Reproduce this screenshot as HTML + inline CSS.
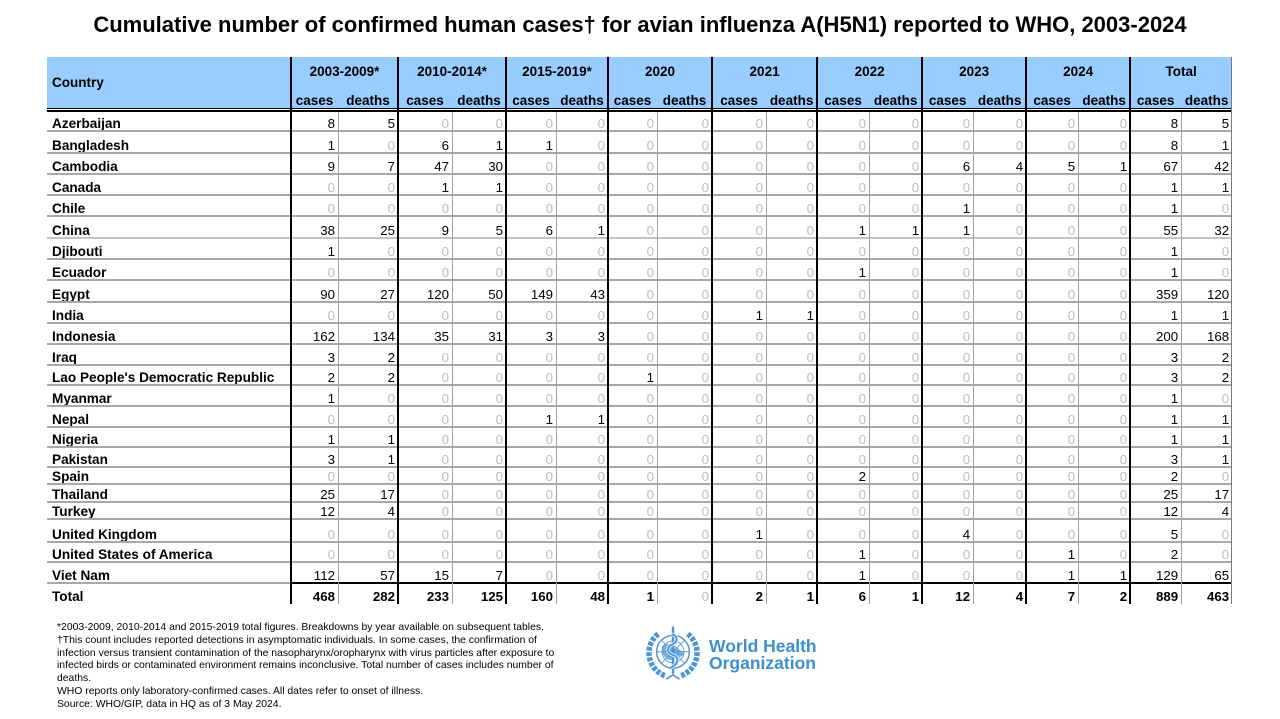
<!DOCTYPE html>
<html><head><meta charset="utf-8">
<style>
body{margin:0;width:1280px;height:719px;position:relative;overflow:hidden;background:#fff;font-family:"Liberation Sans",Arial,sans-serif;color:#000;}
.title{position:absolute;left:0;top:14px;width:1280px;text-align:center;font-weight:bold;font-size:22px;line-height:22px;white-space:nowrap;}
.hb{position:absolute;left:47px;top:57px;width:1185px;height:51px;background:#99ccff;}
.t{position:absolute;left:47px;top:57px;width:1185px;table-layout:fixed;border-collapse:collapse;border-spacing:0;}
.t td{padding:0 3px 0 0;text-align:right;vertical-align:bottom;line-height:15px;font-size:13.3px;white-space:nowrap;overflow:hidden;color:#000;}
.t td.c{text-align:left;padding-left:5px;padding-right:0;font-weight:bold;font-size:13.6px;}
.t td.z{color:#bdbdbd;}
.t tr.h td{font-weight:bold;font-size:13.5px;text-align:center;padding:0;}
.t tr.h td.c{text-align:left;padding-left:5px;vertical-align:middle;}
.t tr.h1 td{vertical-align:middle;}
.t tr.tot td{font-weight:bold;}
.t tr.tot td.z{font-weight:normal;}
.l{position:absolute;}
.hg{left:47px;width:1185px;height:2px;background:#a8a8a8;}
.vk{width:2px;top:57px;height:547px;background:#000;}
.vt{width:1px;top:112px;height:492px;background:#a0a0a0;}
.foot{position:absolute;left:57px;top:622px;font-size:10.4px;line-height:12.8px;white-space:nowrap;}
.who{position:absolute;left:709px;font-weight:bold;font-size:17.5px;line-height:17px;color:#3d8fd0;white-space:nowrap;}
</style></head><body>
<div class="title">Cumulative number of confirmed human cases† for avian influenza A(H5N1) reported to WHO, 2003-2024</div>
<div class="hb"></div>
<table class="t">
<colgroup><col style="width:244px"><col style="width:47px"><col style="width:60px"><col style="width:54px"><col style="width:54px"><col style="width:50px"><col style="width:52px"><col style="width:49px"><col style="width:55px"><col style="width:54px"><col style="width:51px"><col style="width:52px"><col style="width:53px"><col style="width:51px"><col style="width:53px"><col style="width:52px"><col style="width:52px"><col style="width:51px"><col style="width:51px"></colgroup>
<tr class="h h1" style="height:28px"><td class="c" rowspan="2">Country</td><td colspan="2">2003-2009*</td><td colspan="2">2010-2014*</td><td colspan="2">2015-2019*</td><td colspan="2">2020</td><td colspan="2">2021</td><td colspan="2">2022</td><td colspan="2">2023</td><td colspan="2">2024</td><td colspan="2">Total</td></tr>
<tr class="h" style="height:23px"><td>cases</td><td>deaths</td><td>cases</td><td>deaths</td><td>cases</td><td>deaths</td><td>cases</td><td>deaths</td><td>cases</td><td>deaths</td><td>cases</td><td>deaths</td><td>cases</td><td>deaths</td><td>cases</td><td>deaths</td><td>cases</td><td>deaths</td></tr>
<tr style="height:4px"><td colspan="19" style="line-height:0;font-size:0"></td></tr>
<tr style="height:19px"><td class="c">Azerbaijan</td><td>8</td><td>5</td><td class="z">0</td><td class="z">0</td><td class="z">0</td><td class="z">0</td><td class="z">0</td><td class="z">0</td><td class="z">0</td><td class="z">0</td><td class="z">0</td><td class="z">0</td><td class="z">0</td><td class="z">0</td><td class="z">0</td><td class="z">0</td><td>8</td><td>5</td></tr>
<tr style="height:22px"><td class="c">Bangladesh</td><td>1</td><td class="z">0</td><td>6</td><td>1</td><td>1</td><td class="z">0</td><td class="z">0</td><td class="z">0</td><td class="z">0</td><td class="z">0</td><td class="z">0</td><td class="z">0</td><td class="z">0</td><td class="z">0</td><td class="z">0</td><td class="z">0</td><td>8</td><td>1</td></tr>
<tr style="height:21px"><td class="c">Cambodia</td><td>9</td><td>7</td><td>47</td><td>30</td><td class="z">0</td><td class="z">0</td><td class="z">0</td><td class="z">0</td><td class="z">0</td><td class="z">0</td><td class="z">0</td><td class="z">0</td><td>6</td><td>4</td><td>5</td><td>1</td><td>67</td><td>42</td></tr>
<tr style="height:21px"><td class="c">Canada</td><td class="z">0</td><td class="z">0</td><td>1</td><td>1</td><td class="z">0</td><td class="z">0</td><td class="z">0</td><td class="z">0</td><td class="z">0</td><td class="z">0</td><td class="z">0</td><td class="z">0</td><td class="z">0</td><td class="z">0</td><td class="z">0</td><td class="z">0</td><td>1</td><td>1</td></tr>
<tr style="height:21px"><td class="c">Chile</td><td class="z">0</td><td class="z">0</td><td class="z">0</td><td class="z">0</td><td class="z">0</td><td class="z">0</td><td class="z">0</td><td class="z">0</td><td class="z">0</td><td class="z">0</td><td class="z">0</td><td class="z">0</td><td>1</td><td class="z">0</td><td class="z">0</td><td class="z">0</td><td>1</td><td class="z">0</td></tr>
<tr style="height:22px"><td class="c">China</td><td>38</td><td>25</td><td>9</td><td>5</td><td>6</td><td>1</td><td class="z">0</td><td class="z">0</td><td class="z">0</td><td class="z">0</td><td>1</td><td>1</td><td>1</td><td class="z">0</td><td class="z">0</td><td class="z">0</td><td>55</td><td>32</td></tr>
<tr style="height:21px"><td class="c">Djibouti</td><td>1</td><td class="z">0</td><td class="z">0</td><td class="z">0</td><td class="z">0</td><td class="z">0</td><td class="z">0</td><td class="z">0</td><td class="z">0</td><td class="z">0</td><td class="z">0</td><td class="z">0</td><td class="z">0</td><td class="z">0</td><td class="z">0</td><td class="z">0</td><td>1</td><td class="z">0</td></tr>
<tr style="height:21px"><td class="c">Ecuador</td><td class="z">0</td><td class="z">0</td><td class="z">0</td><td class="z">0</td><td class="z">0</td><td class="z">0</td><td class="z">0</td><td class="z">0</td><td class="z">0</td><td class="z">0</td><td>1</td><td class="z">0</td><td class="z">0</td><td class="z">0</td><td class="z">0</td><td class="z">0</td><td>1</td><td class="z">0</td></tr>
<tr style="height:22px"><td class="c">Egypt</td><td>90</td><td>27</td><td>120</td><td>50</td><td>149</td><td>43</td><td class="z">0</td><td class="z">0</td><td class="z">0</td><td class="z">0</td><td class="z">0</td><td class="z">0</td><td class="z">0</td><td class="z">0</td><td class="z">0</td><td class="z">0</td><td>359</td><td>120</td></tr>
<tr style="height:21px"><td class="c">India</td><td class="z">0</td><td class="z">0</td><td class="z">0</td><td class="z">0</td><td class="z">0</td><td class="z">0</td><td class="z">0</td><td class="z">0</td><td>1</td><td>1</td><td class="z">0</td><td class="z">0</td><td class="z">0</td><td class="z">0</td><td class="z">0</td><td class="z">0</td><td>1</td><td>1</td></tr>
<tr style="height:21px"><td class="c">Indonesia</td><td>162</td><td>134</td><td>35</td><td>31</td><td>3</td><td>3</td><td class="z">0</td><td class="z">0</td><td class="z">0</td><td class="z">0</td><td class="z">0</td><td class="z">0</td><td class="z">0</td><td class="z">0</td><td class="z">0</td><td class="z">0</td><td>200</td><td>168</td></tr>
<tr style="height:21px"><td class="c">Iraq</td><td>3</td><td>2</td><td class="z">0</td><td class="z">0</td><td class="z">0</td><td class="z">0</td><td class="z">0</td><td class="z">0</td><td class="z">0</td><td class="z">0</td><td class="z">0</td><td class="z">0</td><td class="z">0</td><td class="z">0</td><td class="z">0</td><td class="z">0</td><td>3</td><td>2</td></tr>
<tr style="height:20px"><td class="c">Lao People's Democratic Republic</td><td>2</td><td>2</td><td class="z">0</td><td class="z">0</td><td class="z">0</td><td class="z">0</td><td>1</td><td class="z">0</td><td class="z">0</td><td class="z">0</td><td class="z">0</td><td class="z">0</td><td class="z">0</td><td class="z">0</td><td class="z">0</td><td class="z">0</td><td>3</td><td>2</td></tr>
<tr style="height:21px"><td class="c">Myanmar</td><td>1</td><td class="z">0</td><td class="z">0</td><td class="z">0</td><td class="z">0</td><td class="z">0</td><td class="z">0</td><td class="z">0</td><td class="z">0</td><td class="z">0</td><td class="z">0</td><td class="z">0</td><td class="z">0</td><td class="z">0</td><td class="z">0</td><td class="z">0</td><td>1</td><td class="z">0</td></tr>
<tr style="height:21px"><td class="c">Nepal</td><td class="z">0</td><td class="z">0</td><td class="z">0</td><td class="z">0</td><td>1</td><td>1</td><td class="z">0</td><td class="z">0</td><td class="z">0</td><td class="z">0</td><td class="z">0</td><td class="z">0</td><td class="z">0</td><td class="z">0</td><td class="z">0</td><td class="z">0</td><td>1</td><td>1</td></tr>
<tr style="height:20px"><td class="c">Nigeria</td><td>1</td><td>1</td><td class="z">0</td><td class="z">0</td><td class="z">0</td><td class="z">0</td><td class="z">0</td><td class="z">0</td><td class="z">0</td><td class="z">0</td><td class="z">0</td><td class="z">0</td><td class="z">0</td><td class="z">0</td><td class="z">0</td><td class="z">0</td><td>1</td><td>1</td></tr>
<tr style="height:20px"><td class="c">Pakistan</td><td>3</td><td>1</td><td class="z">0</td><td class="z">0</td><td class="z">0</td><td class="z">0</td><td class="z">0</td><td class="z">0</td><td class="z">0</td><td class="z">0</td><td class="z">0</td><td class="z">0</td><td class="z">0</td><td class="z">0</td><td class="z">0</td><td class="z">0</td><td>3</td><td>1</td></tr>
<tr style="height:17px"><td class="c">Spain</td><td class="z">0</td><td class="z">0</td><td class="z">0</td><td class="z">0</td><td class="z">0</td><td class="z">0</td><td class="z">0</td><td class="z">0</td><td class="z">0</td><td class="z">0</td><td>2</td><td class="z">0</td><td class="z">0</td><td class="z">0</td><td class="z">0</td><td class="z">0</td><td>2</td><td class="z">0</td></tr>
<tr style="height:18px"><td class="c">Thailand</td><td>25</td><td>17</td><td class="z">0</td><td class="z">0</td><td class="z">0</td><td class="z">0</td><td class="z">0</td><td class="z">0</td><td class="z">0</td><td class="z">0</td><td class="z">0</td><td class="z">0</td><td class="z">0</td><td class="z">0</td><td class="z">0</td><td class="z">0</td><td>25</td><td>17</td></tr>
<tr style="height:17px"><td class="c">Turkey</td><td>12</td><td>4</td><td class="z">0</td><td class="z">0</td><td class="z">0</td><td class="z">0</td><td class="z">0</td><td class="z">0</td><td class="z">0</td><td class="z">0</td><td class="z">0</td><td class="z">0</td><td class="z">0</td><td class="z">0</td><td class="z">0</td><td class="z">0</td><td>12</td><td>4</td></tr>
<tr style="height:23px"><td class="c">United Kingdom</td><td class="z">0</td><td class="z">0</td><td class="z">0</td><td class="z">0</td><td class="z">0</td><td class="z">0</td><td class="z">0</td><td class="z">0</td><td>1</td><td class="z">0</td><td class="z">0</td><td class="z">0</td><td>4</td><td class="z">0</td><td class="z">0</td><td class="z">0</td><td>5</td><td class="z">0</td></tr>
<tr style="height:20px"><td class="c">United States of America</td><td class="z">0</td><td class="z">0</td><td class="z">0</td><td class="z">0</td><td class="z">0</td><td class="z">0</td><td class="z">0</td><td class="z">0</td><td class="z">0</td><td class="z">0</td><td>1</td><td class="z">0</td><td class="z">0</td><td class="z">0</td><td>1</td><td class="z">0</td><td>2</td><td class="z">0</td></tr>
<tr style="height:21px"><td class="c">Viet Nam</td><td>112</td><td>57</td><td>15</td><td>7</td><td class="z">0</td><td class="z">0</td><td class="z">0</td><td class="z">0</td><td class="z">0</td><td class="z">0</td><td>1</td><td class="z">0</td><td class="z">0</td><td class="z">0</td><td>1</td><td>1</td><td>129</td><td>65</td></tr>
<tr class="tot" style="height:21px"><td class="c">Total</td><td>468</td><td>282</td><td>233</td><td>125</td><td>160</td><td>48</td><td>1</td><td class="z">0</td><td>2</td><td>1</td><td>6</td><td>1</td><td>12</td><td>4</td><td>7</td><td>2</td><td>889</td><td>463</td></tr>
</table>

<div class="l hg" style="top:130px"></div>
<div class="l hg" style="top:152px"></div>
<div class="l hg" style="top:173px"></div>
<div class="l hg" style="top:194px"></div>
<div class="l hg" style="top:215px"></div>
<div class="l hg" style="top:237px;background:#c4c4c4"></div>
<div class="l hg" style="top:258px"></div>
<div class="l hg" style="top:279px"></div>
<div class="l hg" style="top:301px"></div>
<div class="l hg" style="top:322px"></div>
<div class="l hg" style="top:343px"></div>
<div class="l hg" style="top:364px"></div>
<div class="l hg" style="top:384px"></div>
<div class="l hg" style="top:405px"></div>
<div class="l hg" style="top:426px"></div>
<div class="l hg" style="top:446px"></div>
<div class="l hg" style="top:466px"></div>
<div class="l hg" style="top:483px"></div>
<div class="l hg" style="top:501px"></div>
<div class="l hg" style="top:518px"></div>
<div class="l hg" style="top:541px"></div>
<div class="l hg" style="top:561px"></div>
<div class="l" style="top:582px;left:47px;width:244px;height:2px;background:#a8a8a8"></div>
<div class="l" style="top:582px;left:291px;width:941px;height:2px;background:#000"></div>
<div class="l" style="top:108px;left:47px;width:1185px;height:1px;background:#000"></div>
<div class="l" style="top:110px;left:47px;width:1185px;height:1.5px;background:#000"></div>
<div class="l vt" style="left:338px"></div>
<div class="l vt" style="left:452px"></div>
<div class="l vt" style="left:556px"></div>
<div class="l vt" style="left:657px"></div>
<div class="l vt" style="left:766px"></div>
<div class="l vt" style="left:869px"></div>
<div class="l vt" style="left:973px"></div>
<div class="l vt" style="left:1078px"></div>
<div class="l vt" style="left:1181px"></div>
<div class="l vk" style="left:290px"></div>
<div class="l vk" style="left:397px"></div>
<div class="l vk" style="left:505px"></div>
<div class="l vk" style="left:607px"></div>
<div class="l vk" style="left:711px"></div>
<div class="l vk" style="left:816px"></div>
<div class="l vk" style="left:921px"></div>
<div class="l vk" style="left:1025px"></div>
<div class="l vk" style="left:1129px"></div>
<div class="l" style="left:1231px;top:57px;width:1px;height:547px;background:#7a7a7a"></div>

<div class="foot">*2003-2009, 2010-2014 and 2015-2019 total figures. Breakdowns by year available on subsequent tables.<br>†This count includes reported detections in asymptomatic individuals. In some cases, the confirmation of<br>infection versus transient contamination of the nasopharynx/oropharynx with virus particles after exposure to<br>infected birds or contaminated environment remains inconclusive. Total number of cases includes number of<br>deaths.<br>WHO reports only laboratory-confirmed cases. All dates refer to onset of illness.<br>Source: WHO/GIP, data in HQ as of 3 May 2024.</div>

<svg style="position:absolute;left:638px;top:622px" width="70" height="64" viewBox="0 0 64 58">
<g fill="none" stroke="#4b96d3">
<path d="M24.5 48.7 A22 22 0 0 1 19.4 10" stroke-width="5" stroke-dasharray="3.5 1.3"/>
<path d="M39.5 48.7 A22 22 0 0 0 44.6 10" stroke-width="5" stroke-dasharray="3.5 1.3"/>
<circle cx="32" cy="27" r="15" stroke-width="1.3"/>
<circle cx="32" cy="27" r="10" stroke-width="0.8"/>
<circle cx="32" cy="27" r="5" stroke-width="0.8"/>
<path d="M17 27H47M32 12V42M21.4 16.4L42.6 37.6M42.6 16.4L21.4 37.6" stroke-width="0.7"/>
<path d="M26 52 L32 48 L38 52" stroke-width="1.5"/>
</g>
<path d="M22 22 C26 18 30 20 33 23 C36 26 40 24 42 29 C40 33 35 31 31 34 C27 36 24 31 22 28 Z" fill="#4b96d3" opacity="0.75"/>
<line x1="32" y1="4" x2="32" y2="47" stroke="#4b96d3" stroke-width="2.2"/>
<path d="M29 42 C38 38 38 32 32 30 C26 28 26 22 32 20 C37 18 36 12 31 11" fill="none" stroke="#fff" stroke-width="3.2"/>
<path d="M29 42 C38 38 38 32 32 30 C26 28 26 22 32 20 C37 18 36 12 31 11" fill="none" stroke="#4b96d3" stroke-width="1.8"/>
</svg>
<div class="who" style="top:638px">World Health</div>
<div class="who" style="top:655px">Organization</div>
</body></html>
